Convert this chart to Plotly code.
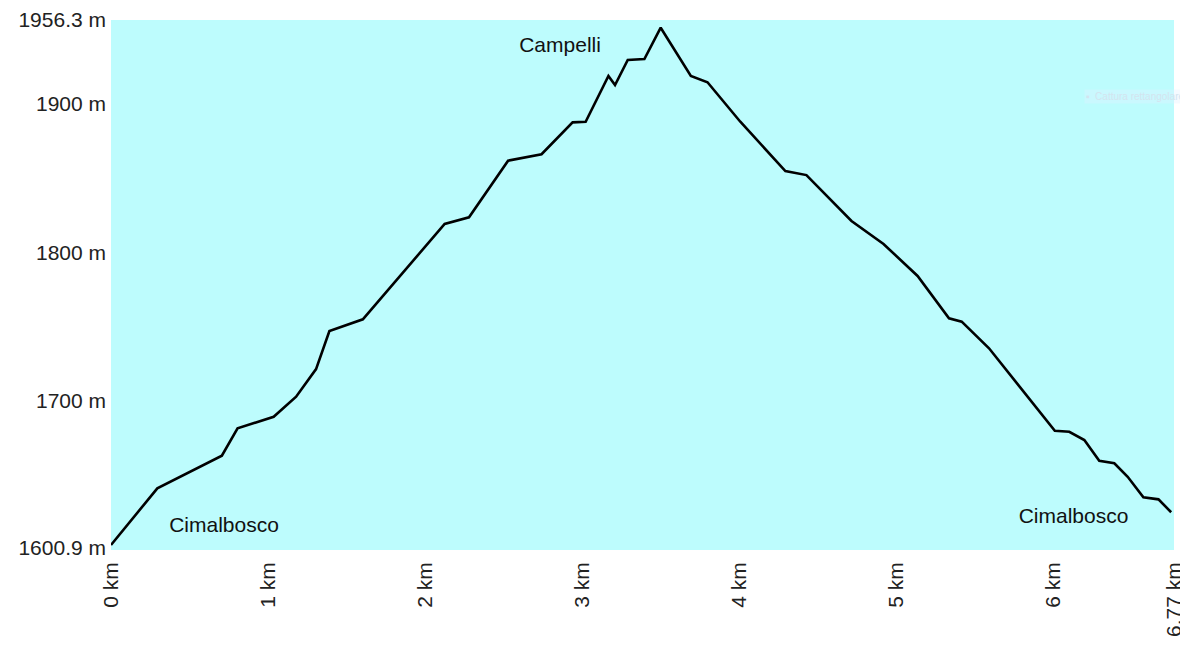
import plotly.graph_objects as go

distance_km = [0.0, 0.295, 0.706, 0.806, 1.036, 1.179, 1.306, 1.391, 1.604, 2.125, 2.280,
               2.529, 2.742, 2.940, 3.023, 3.168, 3.210, 3.291, 3.397, 3.501, 3.693, 3.799,
               4.008, 4.295, 4.429, 4.716, 4.920, 5.137, 5.337, 5.418, 5.592, 6.011, 6.103,
               6.199, 6.294, 6.390, 6.475, 6.575, 6.671, 6.752]
elevation_m = [1602.9, 1641.0, 1663.0, 1681.4, 1689.2, 1702.7, 1721.3, 1746.9, 1754.8, 1819.0, 1823.5,
               1861.6, 1865.9, 1887.4, 1887.8, 1918.6, 1912.5, 1929.4, 1930.0, 1951.1, 1918.6, 1914.4,
               1887.8, 1854.6, 1851.9, 1821.0, 1805.5, 1784.0, 1755.5, 1753.2, 1735.3, 1679.8, 1679.1,
               1673.5, 1659.6, 1657.9, 1648.8, 1635.0, 1633.6, 1624.9]

x_tick_vals = [0, 1, 2, 3, 4, 5, 6, 6.77]
x_tick_text = ["0 km", "1 km", "2 km", "3 km", "4 km", "5 km", "6 km", "6.77 km"]
y_tick_vals = [1600.9, 1700, 1800, 1900, 1956.3]
y_tick_text = ["1600.9 m", "1700 m", "1800 m", "1900 m", "1956.3 m"]

place_names = ["Cimalbosco", "Campelli", "Cimalbosco"]
place_x = [0.72, 2.86, 6.13]
place_y = [1615, 1938, 1621]

fig = go.Figure()
fig.add_trace(go.Scatter(x=distance_km, y=elevation_m, mode="lines",
                         line=dict(color="black", width=2.6), hoverinfo="skip",
                         showlegend=False))
fig.add_trace(go.Scatter(x=place_x, y=place_y, mode="text", text=place_names,
                         textfont=dict(family="Liberation Sans, Arial", size=21, color="#111"),
                         showlegend=False, hoverinfo="skip"))

fig.add_annotation(xref="paper", yref="paper", x=1.0, y=0.87, xanchor="right", xshift=12,
                   text="▪  Cattura rettangolare", showarrow=False,
                   font=dict(family="Liberation Sans", size=10, color="#d3e4ef"),
                   bgcolor="rgba(225,240,255,0.35)")

fig.update_layout(
    width=1180, height=638,
    margin=dict(l=103, r=14, t=12, b=96),
    plot_bgcolor="#bdfcfd", paper_bgcolor="white",
    font=dict(family="Liberation Sans, Arial", size=20, color="#222"),
)
fig.update_xaxes(range=[0, 6.77], tickvals=x_tick_vals, ticktext=x_tick_text,
                 tickangle=-90, showgrid=False, zeroline=False, showline=False,
                 ticks="", ticklabelstandoff=7, tickfont=dict(size=21), automargin=False)
fig.update_yaxes(range=[1599.5, 1956.3], tickvals=y_tick_vals, ticktext=y_tick_text,
                 showgrid=False, zeroline=False, showline=False, ticks="",
                 ticklabelstandoff=4, tickfont=dict(size=21), automargin=False)

fig.write_html("out.html")
